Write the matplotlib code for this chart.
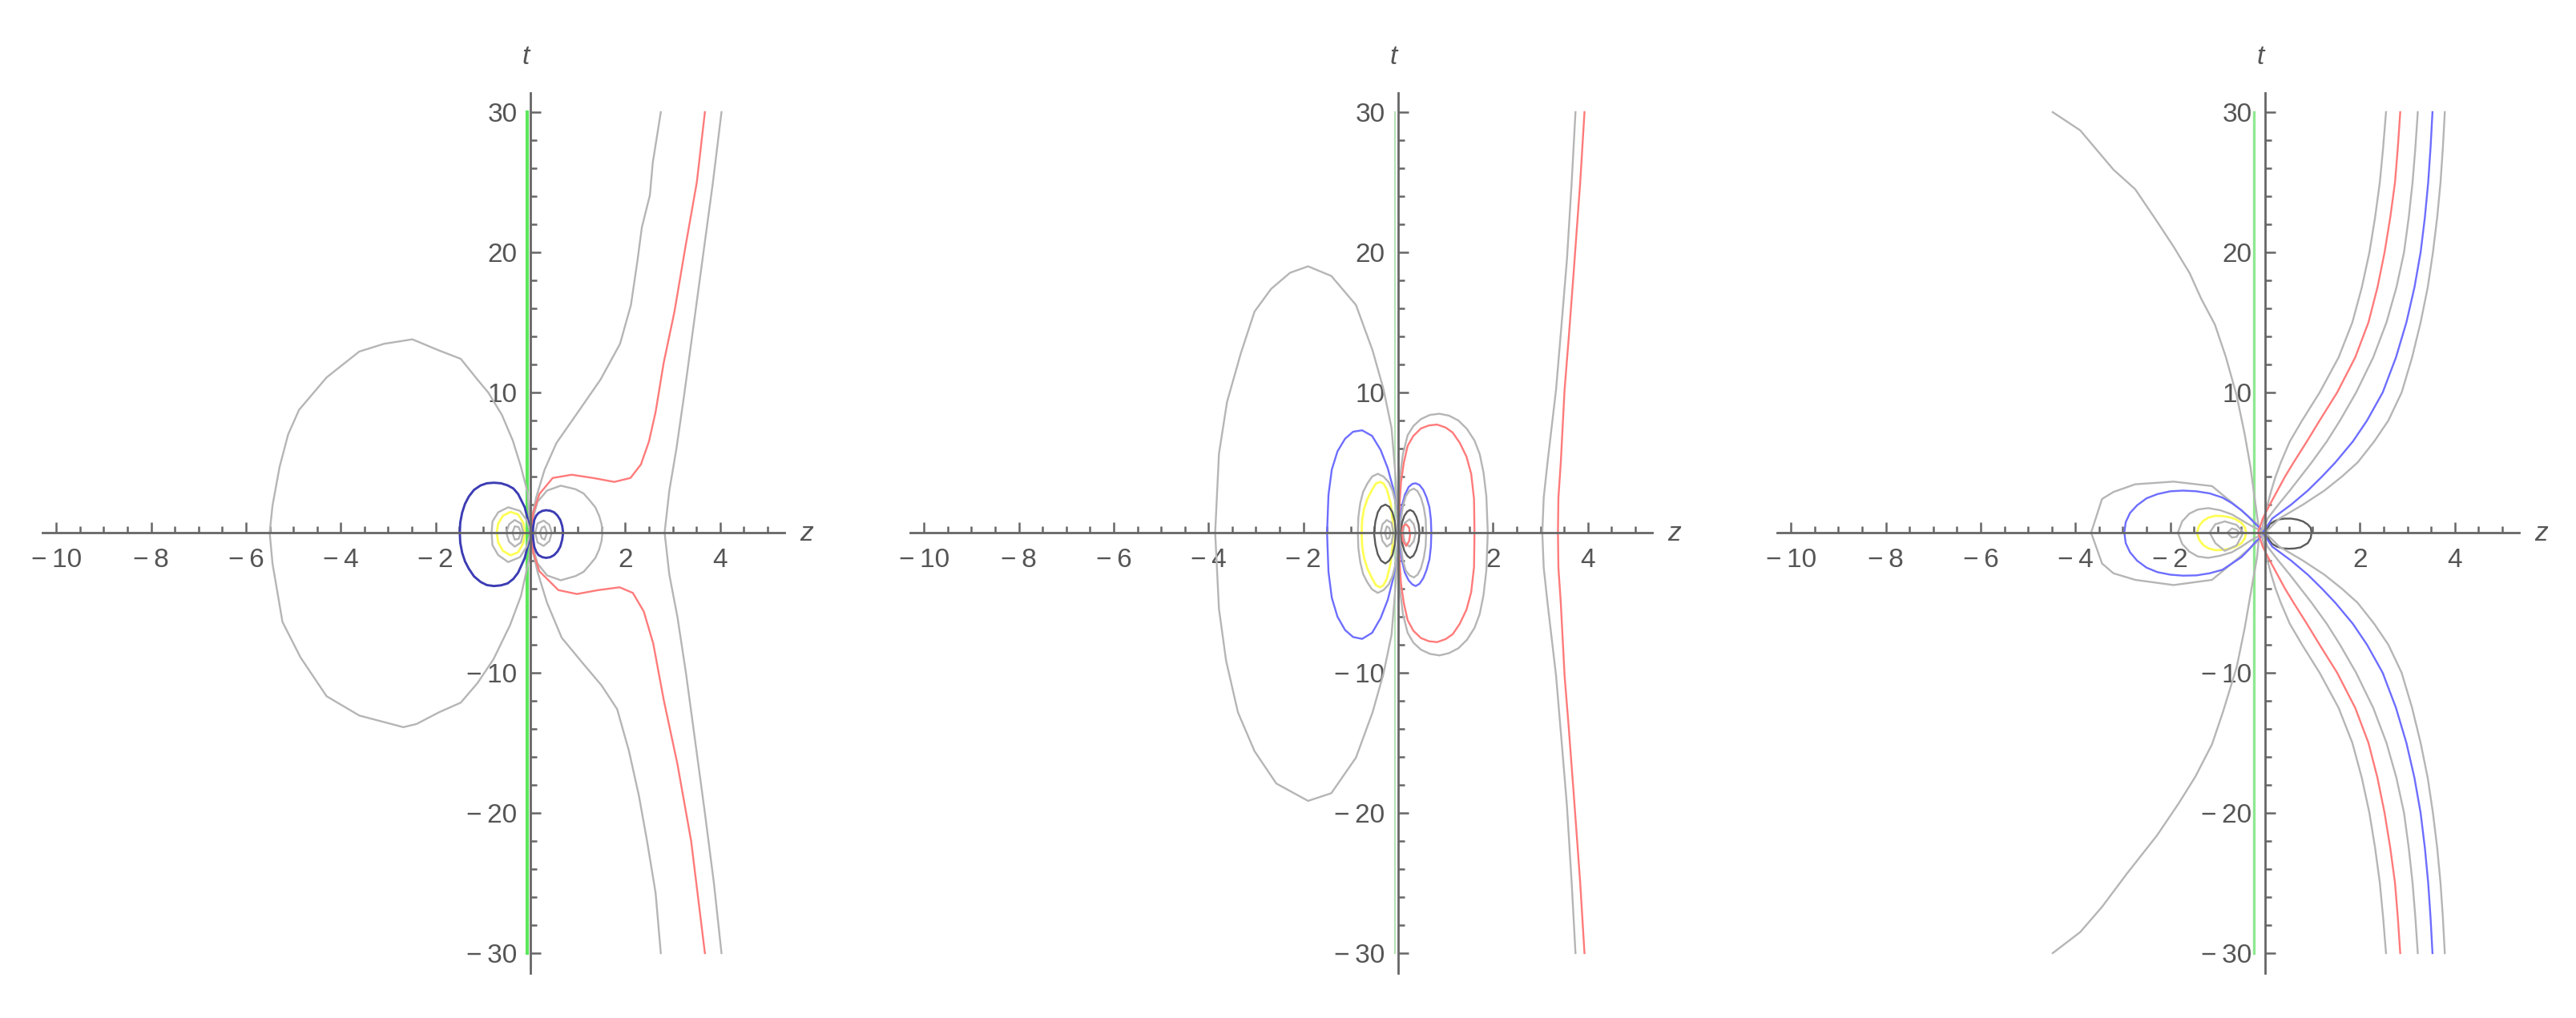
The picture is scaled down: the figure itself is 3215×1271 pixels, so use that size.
import matplotlib.pyplot as plt
from matplotlib.ticker import FixedLocator, MultipleLocator

# ---------------- panel 1 ----------------
p1_green_z = [-0.06, -0.06]
p1_green_t = [-30, 30]

p1_grey_big_z = [0.0, -0.06, -0.20, -0.37, -0.60, -0.89, -1.12, -1.47, -1.93, -2.49, -3.09, -3.61, -4.30, -4.88,
                 -5.11, -5.29, -5.44, -5.50, -5.44, -5.23, -4.85, -4.30, -3.61, -2.68, -2.40, -1.93, -1.47, -1.12,
                 -0.78, -0.43, -0.20, -0.02, 0.0]
p1_grey_big_t = [0.0, 2.86, 4.70, 6.55, 8.39, 10.0, 10.93, 12.4, 13.0, 13.79, 13.47, 12.92, 11.07, 8.76,
                 7.01, 4.70, 1.94, 0.0, -2.21, -6.37, -8.90, -11.67, -13.05, -13.88, -13.65, -12.82, -12.13, -10.75,
                 -9.04, -6.60, -4.52, -1.75, 0.0]

p1_grey_mid_z = [2.75, 2.58, 2.52, 2.35, 2.26, 2.12, 1.89, 1.48, 0.96, 0.55, 0.30, 0.12, 0.04, 0.0,
                 0.04, 0.15, 0.35, 0.66, 1.10, 1.50, 1.83, 2.08, 2.29, 2.46, 2.64, 2.75]
p1_grey_mid_t = [30, 26.38, 24.08, 21.77, 19.46, 16.24, 13.47, 10.93, 8.39, 6.4, 4.5, 2.5, 1.2, 0.0,
                 -1.2, -2.8, -5.0, -7.5, -9.3, -10.9, -12.6, -15.6, -18.8, -22.0, -25.7, -30]

p1_red_z = [3.68, 3.51, 3.27, 3.04, 2.81, 2.64, 2.50, 2.33, 2.11, 1.77, 1.32, 0.87, 0.47, 0.19, 0.06, 0.02,
            0.06, 0.19, 0.59, 0.98, 1.43, 1.88, 2.16, 2.39, 2.59, 2.81, 3.10, 3.39, 3.68]
p1_red_t = [30, 25.0, 20.4, 15.8, 12.1, 8.6, 6.5, 4.86, 3.9, 3.62, 3.9, 4.13, 3.9, 2.76, 1.43, 0.0,
            -1.43, -2.76, -4.1, -4.38, -4.1, -3.9, -4.3, -5.62, -7.9, -11.9, -16.5, -22.0, -30]

p1_grey_far_z = [4.03, 3.85, 3.65, 3.45, 3.25, 3.08, 2.93, 2.83, 2.93, 3.10, 3.28, 3.48, 3.68, 3.87, 4.03]
p1_grey_far_t = [30, 25, 20, 15, 10, 6, 3, 0, -3, -6, -10, -15, -20, -25, -30]

p1_grey_rloop_z = [0, 0.02, 0.05, 0.15, 0.35, 0.64, 0.95, 1.12, 1.25, 1.37, 1.45, 1.50, 1.52,
                   1.50, 1.45, 1.37, 1.25, 1.12, 0.95, 0.64, 0.35, 0.15, 0.05, 0.02, 0]
p1_grey_rloop_t = [0, 0.5, 1.0, 2.2, 3.0, 3.35, 3.1, 2.8, 2.3, 1.8, 1.2, 0.6, 0,
                   -0.6, -1.2, -1.8, -2.3, -2.8, -3.1, -3.4, -3.05, -2.2, -1.0, -0.5, 0]

p1_blue_l_z = [0, -0.02, -0.05, -0.12, -0.26, -0.36, -0.48, -0.62, -0.77, -0.92, -1.05, -1.19, -1.30, -1.38, -1.44,
               -1.48, -1.49, -1.48, -1.44, -1.38, -1.30, -1.19, -1.05, -0.92, -0.77, -0.62, -0.48, -0.36, -0.26,
               -0.12, -0.05, -0.02, 0]
p1_blue_l_t = [0, 0.4, 0.86, 1.81, 2.76, 3.15, 3.37, 3.52, 3.56, 3.52, 3.37, 3.05, 2.57, 2.05, 1.43,
               0.72, 0, -0.72, -1.43, -2.05, -2.57, -3.12, -3.52, -3.74, -3.81, -3.76, -3.62, -3.3, -2.86,
               -1.81, -0.86, -0.4, 0]

p1_blue_r_z = [0.05, 0.06, 0.08, 0.12, 0.17, 0.25, 0.33, 0.42, 0.50, 0.57, 0.63, 0.67, 0.69,
               0.67, 0.63, 0.57, 0.50, 0.42, 0.33, 0.25, 0.17, 0.12, 0.08, 0.06, 0.05]
p1_blue_r_t = [0, 0.45, 0.9, 1.2, 1.4, 1.55, 1.6, 1.56, 1.45, 1.22, 0.9, 0.48, 0,
               -0.5, -1.0, -1.35, -1.6, -1.75, -1.8, -1.75, -1.6, -1.35, -1.0, -0.5, 0]

p1_grey_lloop_z = [0, -0.08, -0.22, -0.47, -0.68, -0.80, -0.82, -0.80, -0.68, -0.47, -0.22, -0.08, 0]
p1_grey_lloop_t = [0, 0.9, 1.55, 1.81, 1.45, 0.8, 0, -0.9, -1.6, -2.1, -1.75, -1.0, 0]

p1_yellow_z = [-0.12, -0.15, -0.26, -0.42, -0.58, -0.68, -0.71, -0.68, -0.58, -0.42, -0.26, -0.15, -0.12]
p1_yellow_t = [0, 0.7, 1.3, 1.48, 1.2, 0.65, 0, -0.7, -1.3, -1.62, -1.4, -0.75, 0]

p1_grey_l2_z = [-0.15, -0.2, -0.33, -0.45, -0.51, -0.45, -0.33, -0.2, -0.15]
p1_grey_l2_t = [0, 0.65, 0.9, 0.6, 0, -0.65, -1.0, -0.7, 0]
p1_grey_l3_z = [-0.2, -0.25, -0.33, -0.38, -0.33, -0.25, -0.2]
p1_grey_l3_t = [0, 0.4, 0.45, 0, -0.5, -0.45, 0]

p1_grey_r2_z = [0.1, 0.15, 0.28, 0.40, 0.45, 0.40, 0.28, 0.15, 0.1]
p1_grey_r2_t = [0, 0.65, 0.86, 0.55, 0, -0.6, -0.95, -0.7, 0]
p1_grey_r3_z = [0.2, 0.24, 0.3, 0.35, 0.3, 0.24, 0.2]
p1_grey_r3_t = [0, 0.35, 0.45, 0, -0.5, -0.4, 0]

# ---------------- panel 2 ----------------
p2_green_z = [-0.07, -0.07]
p2_green_t = [-30, 30]

p2_grey_big_z = [0, -0.05, -0.14, -0.31, -0.54, -0.89, -1.41, -1.90, -2.28, -2.68, -3.03, -3.32, -3.61, -3.78,
                 -3.86, -3.78, -3.63, -3.38, -3.03, -2.57, -1.90, -1.41, -0.89, -0.54, -0.31, -0.14, -0.05, 0]
p2_grey_big_t = [0, 3.78, 7.47, 10.24, 13.0, 16.24, 18.31, 19.0, 18.54, 17.39, 15.77, 12.78, 9.32, 5.63,
                 0, -5.44, -9.13, -12.82, -15.59, -17.9, -19.14, -18.59, -16.05, -12.82, -10.06, -7.29, -3.6, 0]

p2_blue_big_z = [0, -0.03, -0.10, -0.22, -0.37, -0.55, -0.76, -0.95, -1.12, -1.28, -1.40, -1.47, -1.50,
                 -1.47, -1.40, -1.28, -1.12, -0.95, -0.76, -0.55, -0.37, -0.22, -0.10, -0.03, 0]
p2_blue_big_t = [0, 1.6, 3.1, 4.6, 5.9, 6.9, 7.3, 7.2, 6.7, 5.8, 4.5, 2.7, 0,
                 -2.8, -4.65, -6.0, -6.95, -7.45, -7.58, -7.15, -6.1, -4.8, -3.2, -1.7, 0]

p2_red_loop_z = [0.02, 0.03, 0.06, 0.12, 0.20, 0.32, 0.48, 0.65, 0.82, 1.00, 1.15, 1.30, 1.44, 1.54, 1.60, 1.61,
                 1.60, 1.54, 1.44, 1.30, 1.15, 1.00, 0.82, 0.65, 0.48, 0.32, 0.20, 0.12, 0.06, 0.03, 0.02]
p2_red_loop_t = [0, 2.0, 3.6, 5.0, 6.19, 6.9, 7.43, 7.65, 7.71, 7.5, 7.14, 6.4, 5.43, 4.2, 2.4, 0,
                 -2.45, -4.25, -5.5, -6.5, -7.25, -7.6, -7.81, -7.75, -7.52, -7.0, -6.25, -5.05, -3.65, -2.05, 0]

p2_grey_rloop_z = [0, 0.01, 0.04, 0.10, 0.20, 0.32, 0.48, 0.67, 0.87, 1.07, 1.27, 1.45, 1.61, 1.72, 1.80, 1.86, 1.89,
                   1.86, 1.80, 1.72, 1.61, 1.45, 1.27, 1.07, 0.87, 0.67, 0.48, 0.32, 0.20, 0.10, 0.04, 0.01, 0]
p2_grey_rloop_t = [0, 2.2, 4.0, 5.6, 6.95, 7.6, 8.1, 8.4, 8.48, 8.35, 8.0, 7.4, 6.57, 5.6, 4.29, 2.6, 0,
                   -2.7, -4.45, -5.8, -6.8, -7.65, -8.25, -8.6, -8.76, -8.65, -8.35, -7.85, -7.15, -5.8, -4.15, -2.3, 0]

p2_grey_lloop_z = [0, -0.02, -0.06, -0.12, -0.2, -0.31, -0.43, -0.55, -0.65, -0.74, -0.80, -0.84, -0.85,
                   -0.84, -0.80, -0.74, -0.65, -0.55, -0.43, -0.31, -0.2, -0.12, -0.06, -0.02, 0]
p2_grey_lloop_t = [0, 1.1, 2.2, 3.0, 3.6, 4.0, 4.2, 4.0, 3.5, 2.9, 2.1, 1.1, 0,
                   -1.1, -2.1, -2.95, -3.55, -4.05, -4.3, -4.1, -3.7, -3.1, -2.3, -1.2, 0]

p2_yellow_z = [-0.11, -0.12, -0.16, -0.24, -0.31, -0.38, -0.47, -0.56, -0.65, -0.72, -0.76, -0.77,
               -0.76, -0.72, -0.65, -0.56, -0.47, -0.38, -0.31, -0.24, -0.16, -0.12, -0.11]
p2_yellow_t = [0, 1.0, 2.1, 3.1, 3.5, 3.62, 3.5, 3.0, 2.4, 1.7, 0.9, 0,
               -0.95, -1.8, -2.55, -3.2, -3.75, -3.9, -3.75, -3.3, -2.2, -1.0, 0]

p2_dark_l_z = [-0.05, -0.07, -0.12, -0.19, -0.27, -0.36, -0.43, -0.48, -0.51,
               -0.48, -0.43, -0.36, -0.27, -0.19, -0.12, -0.07, -0.05]
p2_dark_l_t = [0, 0.8, 1.45, 1.85, 2.0, 1.85, 1.45, 0.8, 0,
               -0.85, -1.55, -2.0, -2.2, -2.0, -1.6, -0.85, 0]
p2_grey_l2_z = [-0.1, -0.14, -0.24, -0.33, -0.37, -0.33, -0.24, -0.14, -0.1]
p2_grey_l2_t = [0, 0.7, 0.9, 0.6, 0, -0.6, -1.0, -0.75, 0]
p2_grey_l3_z = [-0.16, -0.19, -0.24, -0.28, -0.24, -0.19, -0.16]
p2_grey_l3_t = [0, 0.35, 0.45, 0, -0.45, -0.4, 0]

p2_blue_small_z = [0.03, 0.04, 0.08, 0.14, 0.22, 0.30, 0.37, 0.45, 0.53, 0.60, 0.66, 0.69, 0.70,
                   0.69, 0.66, 0.60, 0.53, 0.45, 0.37, 0.30, 0.22, 0.14, 0.08, 0.04, 0.03]
p2_blue_small_t = [0, 1.0, 1.9, 2.7, 3.25, 3.48, 3.52, 3.4, 3.05, 2.5, 1.8, 0.95, 0,
                   -1.0, -1.9, -2.65, -3.25, -3.65, -3.81, -3.7, -3.4, -2.85, -2.0, -1.05, 0]
p2_grey_r1_z = [0.05, 0.06, 0.10, 0.16, 0.24, 0.33, 0.41, 0.48, 0.54, 0.58, 0.59,
                0.58, 0.54, 0.48, 0.41, 0.33, 0.24, 0.16, 0.10, 0.06, 0.05]
p2_grey_r1_t = [0, 1.0, 1.9, 2.6, 3.0, 3.14, 2.95, 2.5, 1.8, 0.95, 0,
                -0.95, -1.8, -2.55, -3.0, -3.2, -3.05, -2.7, -2.0, -1.05, 0]
p2_dark_r_z = [0.06, 0.08, 0.13, 0.19, 0.25, 0.32, 0.38, 0.43, 0.45,
               0.43, 0.38, 0.32, 0.25, 0.19, 0.13, 0.08, 0.06]
p2_dark_r_t = [0, 0.7, 1.2, 1.5, 1.62, 1.5, 1.15, 0.6, 0,
               -0.65, -1.25, -1.65, -1.81, -1.65, -1.3, -0.7, 0]
p2_grey_r2_z = [0.1, 0.14, 0.24, 0.33, 0.37, 0.33, 0.24, 0.14, 0.1]
p2_grey_r2_t = [0, 0.7, 0.95, 0.6, 0, -0.6, -1.0, -0.7, 0]
p2_red_small_z = [0.08, 0.1, 0.17, 0.23, 0.25, 0.23, 0.17, 0.1, 0.08]
p2_red_small_t = [0, 0.45, 0.6, 0.35, -0.2, -0.6, -0.95, -0.6, 0]

p2_grey_far_z = [3.74, 3.66, 3.56, 3.45, 3.33, 3.15, 3.07, 3.04, 3.07, 3.15, 3.33, 3.45, 3.56, 3.66, 3.74]
p2_grey_far_t = [30, 25, 19.5, 15, 10.2, 5, 2.5, 0, -2.5, -5, -10.2, -15, -19.5, -25, -30]
p2_red_far_z = [3.93, 3.84, 3.70, 3.60, 3.51, 3.43, 3.38, 3.37, 3.38, 3.43, 3.51, 3.60, 3.70, 3.84, 3.93]
p2_red_far_t = [30, 25, 18.5, 14, 10.2, 5, 2.5, 0, -2.5, -5, -10.2, -14, -18.5, -25, -30]

# ---------------- panel 3 ----------------
p3_green_z = [-0.24, -0.24]
p3_green_t = [-30, 30]

p3_grey_big_z = [-4.48, -3.90, -3.20, -2.74, -2.28, -1.93, -1.59, -1.35, -1.06, -0.83, -0.60, -0.43, -0.31, -0.20,
                 -0.12, -0.17, -0.29, -0.43, -0.60, -0.89, -1.12, -1.47, -1.82, -2.28, -2.92, -3.44, -3.90, -4.48]
p3_grey_big_t = [30, 28.7, 25.9, 24.5, 22.2, 20.4, 18.5, 16.7, 14.85, 12.55, 9.78, 7.01, 4.70, 1.94,
                 0, -1.75, -4.06, -6.8, -9.6, -12.8, -15.1, -17.4, -19.3, -21.6, -24.35, -26.7, -28.5, -30]

p3_grey_outer_z = [0, -0.2, -0.54, -1.12, -1.93, -2.74, -3.2, -3.44, -3.67, -3.44, -3.2, -2.74, -1.93, -1.12,
                   -0.54, -0.2, 0]
p3_grey_outer_t = [0, 0.7, 1.7, 3.32, 3.64, 3.45, 2.9, 2.4, 0, -2.2, -2.9, -3.37, -3.74, -3.37, -1.75, -0.75, 0]

p3_blue_l_z = [0, -0.08, -0.2, -0.34, -0.5, -0.7, -0.9, -1.17, -1.45, -1.73, -2.0, -2.27, -2.5, -2.7, -2.85, -2.94,
               -2.97, -2.94, -2.85, -2.7, -2.5, -2.27, -2.0, -1.73, -1.45, -1.17, -0.9, -0.7, -0.5, -0.34, -0.2,
               -0.08, 0]
p3_blue_l_t = [0, 0.25, 0.6, 1.1, 1.6, 2.1, 2.5, 2.8, 2.95, 3.0, 2.95, 2.75, 2.45, 1.95, 1.4, 0.75,
               0, -0.75, -1.4, -2.0, -2.5, -2.82, -3.0, -3.07, -3.05, -2.9, -2.65, -2.2, -1.75, -1.2, -0.65,
               -0.27, 0]

p3_grey_inner_z = [0, -0.14, -0.3, -0.5, -0.7, -0.95, -1.2, -1.42, -1.6, -1.75, -1.84,
                   -1.75, -1.6, -1.42, -1.2, -0.95, -0.7, -0.5, -0.3, -0.14, 0]
p3_grey_inner_t = [0, 0.22, 0.5, 0.9, 1.3, 1.6, 1.75, 1.65, 1.35, 0.8, 0,
                   -0.8, -1.35, -1.7, -1.8, -1.65, -1.4, -1.0, -0.55, -0.25, 0]

p3_yellow_z = [-0.40, -0.43, -0.5, -0.62, -0.75, -0.9, -1.05, -1.19, -1.3, -1.39, -1.44,
               -1.39, -1.3, -1.19, -1.05, -0.9, -0.75, -0.62, -0.5, -0.43, -0.40]
p3_yellow_t = [0, 0.4, 0.7, 0.95, 1.1, 1.18, 1.2, 1.08, 0.85, 0.5, 0,
               -0.52, -0.9, -1.13, -1.25, -1.23, -1.15, -1.0, -0.75, -0.42, 0]

p3_grey_small_z = [-0.46, -0.6, -0.85, -1.05, -1.17, -1.05, -0.85, -0.6, -0.46]
p3_grey_small_t = [0, 0.55, 0.8, 0.6, 0, -0.75, -1.3, -0.9, 0]
p3_grey_tiny_z = [-0.55, -0.6, -0.7, -0.8, -0.7, -0.6, -0.55]
p3_grey_tiny_t = [0, 0.2, 0.3, 0, -0.35, -0.3, 0]

p3_dark_r_z = [0.03, 0.05, 0.1, 0.2, 0.3, 0.42, 0.55, 0.68, 0.8, 0.9, 0.96, 0.98, 0.96, 0.9, 0.75, 0.62, 0.5, 0.37,
               0.25, 0.15, 0.08, 0.03]
p3_dark_r_t = [0, 0.3, 0.6, 0.82, 0.95, 1.0, 1.0, 0.93, 0.8, 0.58, 0.35, 0.0, -0.4, -0.75, -1.05, -1.13, -1.15,
               -1.12, -1.0, -0.8, -0.5, 0]

p3_fan_t = [30, 27.5, 25, 22.5, 20, 17.5, 15, 12.5, 10, 8, 6.5, 5, 4, 3, 2, 1, 0,
            -1, -2, -3, -4, -5, -6.5, -8, -10, -12.5, -15, -17.5, -20, -22.5, -25, -27.5, -30]
p3_fan_grey1_z = [2.55, 2.49, 2.42, 2.32, 2.20, 2.04, 1.84, 1.55, 1.15, 0.78, 0.52, 0.33, 0.22, 0.13, 0.05, -0.02,
                  -0.08, -0.02, 0.05, 0.13, 0.22, 0.33, 0.52, 0.78, 1.15, 1.55, 1.84, 2.04, 2.20, 2.32, 2.42, 2.49,
                  2.55]
p3_fan_red_z = [2.85, 2.80, 2.74, 2.64, 2.52, 2.37, 2.18, 1.90, 1.52, 1.15, 0.88, 0.60, 0.42, 0.26, 0.10, -0.05,
                -0.15, -0.05, 0.10, 0.26, 0.42, 0.60, 0.88, 1.15, 1.52, 1.90, 2.18, 2.37, 2.52, 2.64, 2.74, 2.80,
                2.85]
p3_fan_grey2_z = [3.22, 3.17, 3.11, 3.03, 2.93, 2.77, 2.56, 2.28, 1.92, 1.58, 1.30, 0.98, 0.75, 0.52, 0.28, 0.05,
                  -0.05, 0.05, 0.28, 0.52, 0.75, 0.98, 1.30, 1.58, 1.92, 2.28, 2.56, 2.77, 2.93, 3.03, 3.11, 3.17,
                  3.22]
p3_fan_blue_z = [3.53, 3.49, 3.44, 3.37, 3.28, 3.15, 2.98, 2.76, 2.48, 2.15, 1.85, 1.48, 1.20, 0.90, 0.55, 0.15,
                 -0.05, 0.15, 0.55, 0.90, 1.20, 1.48, 1.85, 2.15, 2.48, 2.76, 2.98, 3.15, 3.28, 3.37, 3.44, 3.49,
                 3.53]
p3_fan_grey3_z = [3.79, 3.75, 3.70, 3.63, 3.54, 3.43, 3.28, 3.10, 2.88, 2.60, 2.30, 1.95, 1.62, 1.25, 0.80, 0.30,
                  0.0, 0.30, 0.80, 1.25, 1.62, 1.95, 2.30, 2.60, 2.88, 3.10, 3.28, 3.43, 3.54, 3.63, 3.70, 3.75,
                  3.79]

z_major = [-10, -8, -6, -4, -2, 2, 4]
z_labels = ['\u2212\u200910', '\u2212\u20098', '\u2212\u20096', '\u2212\u20094', '\u2212\u20092', '2', '4']
t_major = [-30, -20, -10, 10, 20, 30]
t_labels = ['\u2212\u200930', '\u2212\u200920', '\u2212\u200910', '10', '20', '30']

GREY = '#b5b5b5'
RED = '#ff7a7a'
BLUE_D = '#3c3cb4'
BLUE = '#6d6dff'
YEL = '#ffff55'
DARK = '#5a5a5a'
AXC = '#666666'
TXT = '#555555'
FONT = ['Liberation Sans', 'DejaVu Sans']

curves = [
    # panel, z, t, colour, width
    (0, p1_green_z, p1_green_t, '#5ae65a', 3.0),
    (0, p1_grey_big_z, p1_grey_big_t, GREY, 1.7),
    (0, p1_grey_mid_z, p1_grey_mid_t, GREY, 1.7),
    (0, p1_grey_far_z, p1_grey_far_t, GREY, 1.7),
    (0, p1_grey_rloop_z, p1_grey_rloop_t, GREY, 1.7),
    (0, p1_red_z, p1_red_t, RED, 1.7),
    (0, p1_blue_l_z, p1_blue_l_t, BLUE_D, 2.1),
    (0, p1_blue_r_z, p1_blue_r_t, BLUE_D, 2.1),
    (0, p1_grey_lloop_z, p1_grey_lloop_t, GREY, 1.7),
    (0, p1_yellow_z, p1_yellow_t, YEL, 2.0),
    (0, p1_grey_l2_z, p1_grey_l2_t, GREY, 1.7),
    (0, p1_grey_l3_z, p1_grey_l3_t, GREY, 1.7),
    (0, p1_grey_r2_z, p1_grey_r2_t, GREY, 1.7),
    (0, p1_grey_r3_z, p1_grey_r3_t, GREY, 1.7),

    (1, p2_green_z, p2_green_t, '#b5e2b5', 1.5),
    (1, p2_grey_big_z, p2_grey_big_t, GREY, 1.7),
    (1, p2_blue_big_z, p2_blue_big_t, BLUE, 1.7),
    (1, p2_grey_rloop_z, p2_grey_rloop_t, GREY, 1.7),
    (1, p2_red_loop_z, p2_red_loop_t, RED, 1.7),
    (1, p2_grey_lloop_z, p2_grey_lloop_t, GREY, 1.7),
    (1, p2_yellow_z, p2_yellow_t, YEL, 2.0),
    (1, p2_dark_l_z, p2_dark_l_t, DARK, 1.7),
    (1, p2_grey_l2_z, p2_grey_l2_t, GREY, 1.7),
    (1, p2_grey_l3_z, p2_grey_l3_t, GREY, 1.7),
    (1, p2_blue_small_z, p2_blue_small_t, BLUE, 1.7),
    (1, p2_grey_r1_z, p2_grey_r1_t, GREY, 1.7),
    (1, p2_dark_r_z, p2_dark_r_t, DARK, 1.7),
    (1, p2_grey_r2_z, p2_grey_r2_t, GREY, 1.7),
    (1, p2_red_small_z, p2_red_small_t, RED, 1.7),
    (1, p2_grey_far_z, p2_grey_far_t, GREY, 1.7),
    (1, p2_red_far_z, p2_red_far_t, RED, 1.7),

    (2, p3_green_z, p3_green_t, '#90e890', 2.4),
    (2, p3_grey_big_z, p3_grey_big_t, GREY, 1.7),
    (2, p3_grey_outer_z, p3_grey_outer_t, GREY, 1.7),
    (2, p3_blue_l_z, p3_blue_l_t, BLUE, 1.7),
    (2, p3_grey_inner_z, p3_grey_inner_t, GREY, 1.7),
    (2, p3_yellow_z, p3_yellow_t, YEL, 2.0),
    (2, p3_grey_small_z, p3_grey_small_t, GREY, 1.7),
    (2, p3_grey_tiny_z, p3_grey_tiny_t, GREY, 1.7),
    (2, p3_dark_r_z, p3_dark_r_t, DARK, 1.7),
    (2, p3_fan_grey1_z, p3_fan_t, GREY, 1.7),
    (2, p3_fan_red_z, p3_fan_t, RED, 1.7),
    (2, p3_fan_grey2_z, p3_fan_t, GREY, 1.7),
    (2, p3_fan_blue_z, p3_fan_t, BLUE, 1.7),
    (2, p3_fan_grey3_z, p3_fan_t, GREY, 1.7),
]

W, H = 3215, 1271
fig = plt.figure(figsize=(W / 100, H / 100), dpi=100)

origins = [662, 1745, 2827]   # pixel x of z=0 in each panel
zpx, tpx = 59.17, 17.5
zmin, zmax, tlim = -10.3, 5.36, 31.4
axes = []
for x0 in origins:
    left = x0 + zmin * zpx
    bottom = H - (665 + tlim * tpx)
    ax = fig.add_axes([left / W, bottom / H, (zmax - zmin) * zpx / W, 2 * tlim * tpx / H])
    ax.set_xlim(zmin, zmax)
    ax.set_ylim(-tlim, tlim)
    ax.patch.set_visible(False)
    for s in ['top', 'right']:
        ax.spines[s].set_visible(False)
    for s in ['left', 'bottom']:
        ax.spines[s].set_position(('data', 0))
        ax.spines[s].set_color(AXC)
        ax.spines[s].set_linewidth(2.0)
    ax.xaxis.set_major_locator(FixedLocator(z_major))
    ax.set_xticklabels(z_labels, fontfamily=FONT)
    ax.xaxis.set_minor_locator(MultipleLocator(0.5))
    ax.yaxis.set_major_locator(FixedLocator(t_major))
    ax.set_yticklabels(t_labels, fontfamily=FONT)
    ax.yaxis.set_minor_locator(MultipleLocator(2))
    ax.tick_params(which='both', direction='in', color=AXC, width=1.8, labelsize=24, labelcolor=TXT)
    ax.tick_params(which='major', length=9.5)
    ax.tick_params(which='minor', length=5.8)
    ax.tick_params(axis='x', pad=14)
    ax.tick_params(axis='y', pad=12)
    ax.text(5.83, -0.55, 'z', fontsize=24, style='italic', color=TXT, family=FONT, ha='center', va='baseline')
    ax.text(-0.1, 33.4, 't', fontsize=24, style='italic', color=TXT, family=FONT, ha='center', va='baseline')
    axes.append(ax)

for panel, z, t, col, lw in curves:
    axes[panel].plot(z, t, color=col, lw=lw, solid_joinstyle='round', zorder=2)

fig.savefig('out.png', dpi=100, facecolor='white')
